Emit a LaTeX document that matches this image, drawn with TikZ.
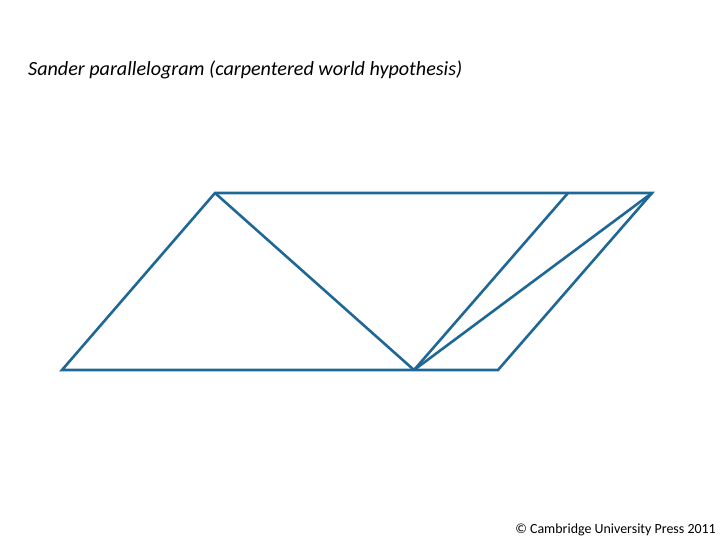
\documentclass[tikz,border=0pt]{standalone}
\usepackage{fontspec}
\setmainfont{Carlito}
\definecolor{sanderblue}{RGB}{31,104,150}
\begin{document}
\begin{tikzpicture}[x=1bp,y=-1bp,
	edge/.style={draw=sanderblue, line width=2.6bp, line join=miter}]
		\useasboundingbox (0,0) rectangle (720,540);
		%Title
		\node [anchor=base west, inner sep=0] (title) at (28,76) {\fontsize{20.2}{24}\selectfont\itshape Sander parallelogram (carpentered world hypothesis)};
		%Corners of the parallelogram
		\coordinate (tl) at (215,193);
		\coordinate (tr) at (652,193);
		\coordinate (bl) at (62,370);
		\coordinate (br) at (498,370);
		%Extra points on the long sides
		\coordinate (tm) at (568,193);
		\coordinate (bm) at (414,370);
		%Outer hull
		\draw [edge] (bl) -- (tl) -- (tr) -- (br) -- cycle;
		%Diagonals meeting at the bottom
		\draw [edge] (tl) -- (bm);
		\draw [edge] (tm) -- (bm);
		\draw [edge] (tr) -- (bm);
		%Copyright
		\node [anchor=base east, inner sep=0] (copy) at (716,533) {\fontsize{14}{16}\selectfont \textcopyright{} Cambridge University Press 2011};
\end{tikzpicture}
\end{document}
